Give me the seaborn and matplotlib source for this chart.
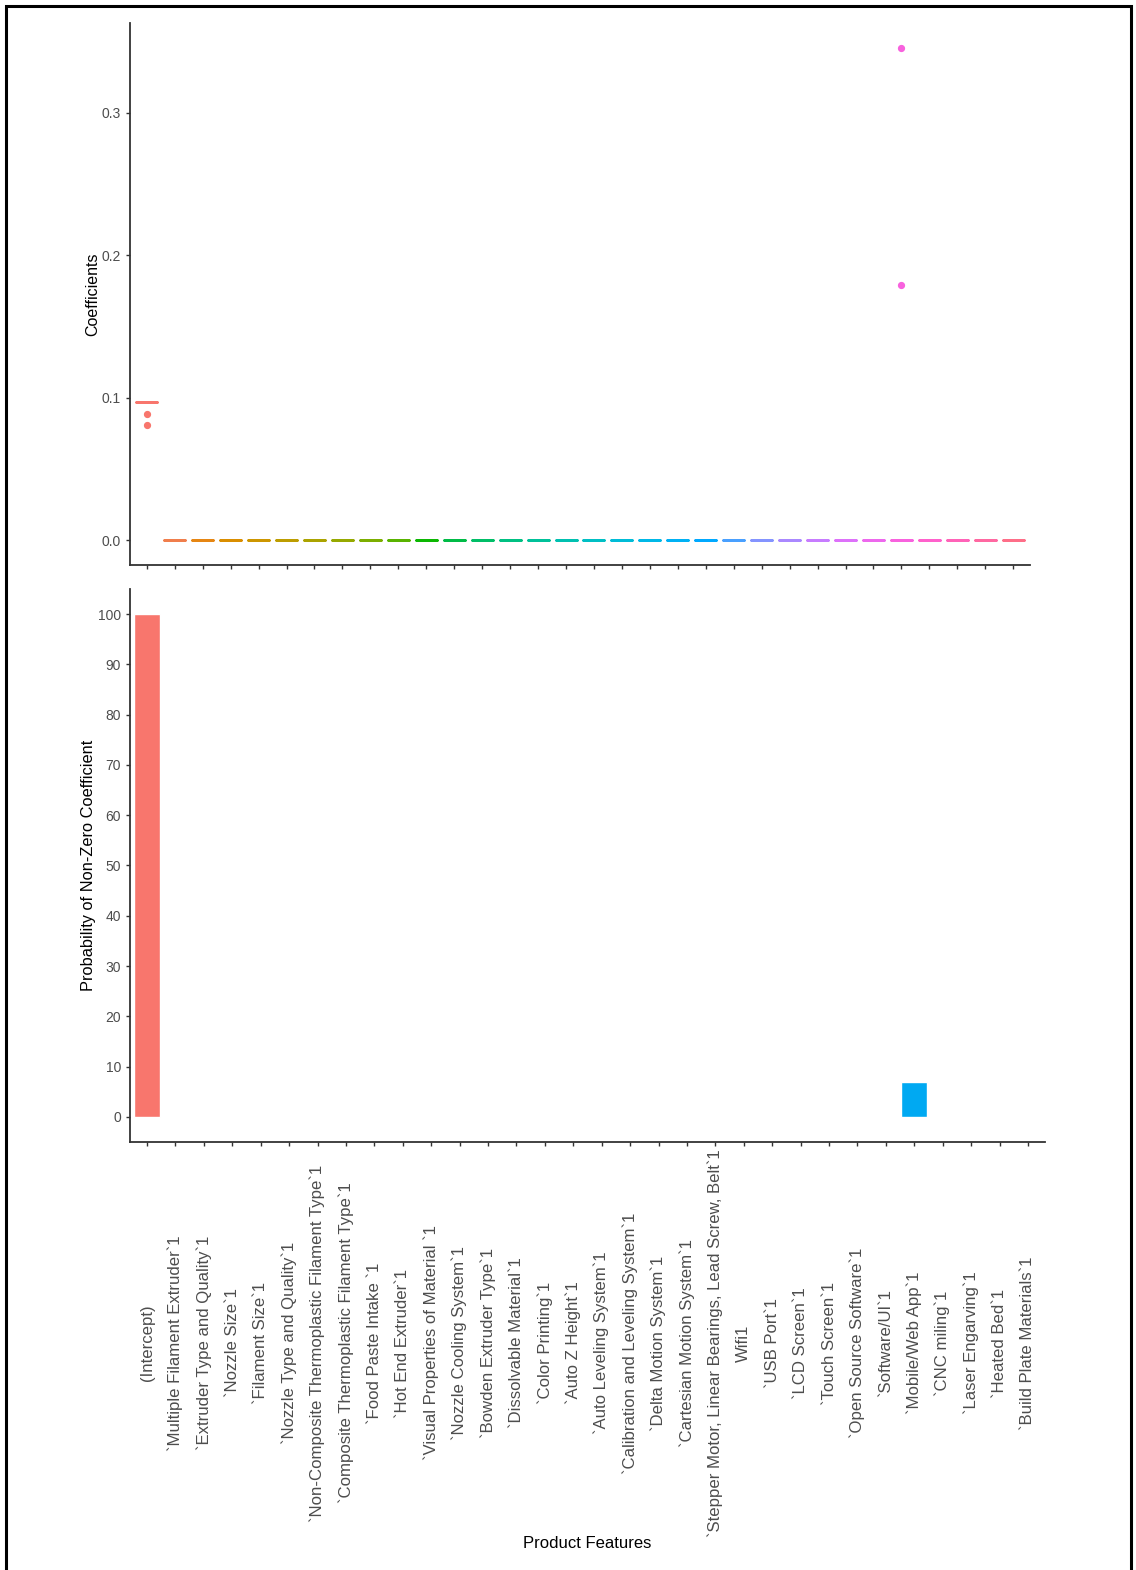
import numpy as np
import pandas as pd
import matplotlib
matplotlib.use("Agg")
import matplotlib.pyplot as plt
import seaborn as sns
from matplotlib.patches import Rectangle
from matplotlib.ticker import FormatStrFormatter

# ---------------- data ----------------
features = [
    "(Intercept)",
    "`Multiple Filament Extruder`1",
    "`Extruder Type and Quality`1",
    "`Nozzle Size`1",
    "`Filament Size`1",
    "`Nozzle Type and Quality`1",
    "`Non-Composite Thermoplastic Filament Type`1",
    "`Composite Thermoplastic Filament Type`1",
    "`Food Paste Intake `1",
    "`Hot End Extruder`1",
    "`Visual Properties of Material `1",
    "`Nozzle Cooling System`1",
    "`Bowden Extruder Type`1",
    "`Dissolvable Material`1",
    "`Color Printing`1",
    "`Auto Z Height`1",
    "`Auto Leveling System`1",
    "`Calibration and Leveling System`1",
    "`Delta Motion System`1",
    "`Cartesian Motion System`1",
    "`Stepper Motor, Linear Bearings, Lead Screw, Belt`1",
    "Wifi1",
    "`USB Port`1",
    "`LCD Screen`1",
    "`Touch Screen`1",
    "`Open Source Software`1",
    "`Software/UI`1",
    "`Mobile/Web App`1",
    "`CNC miling`1",
    "`Laser Engarving`1",
    "`Heated Bed`1",
    "`Build Plate Materials`1",
]

# typical (box) coefficient value per feature
coef_typical = [0.0972, 0, 0, 0, 0, 0, 0, 0, 0, 0, 0, 0, 0, 0, 0, 0,
                0, 0, 0, 0, 0, 0, 0, 0, 0, 0, 0, 0, 0, 0, 0, 0]
# outlying coefficient draws
coef_outliers = {
    "(Intercept)": [0.0885, 0.0806],
    "`Mobile/Web App`1": [0.1793, 0.3456],
}
n_draws = 100

# probability (%) of non-zero coefficient
prob_nonzero = [100, 0, 0, 0, 0, 0, 0, 0, 0, 0, 0, 0, 0, 0, 0, 0,
                0, 0, 0, 0, 0, 0, 0, 0, 0, 0, 0, 7, 0, 0, 0, 0]

# ---------------- tables ----------------
rows = []
for f, t in zip(features, coef_typical):
    outs = coef_outliers.get(f, [])
    vals = [t] * (n_draws - len(outs)) + list(outs)
    rows += [(f, v) for v in vals]
coef_df = pd.DataFrame(rows, columns=["feature", "coef"])
prob_df = pd.DataFrame({"feature": features, "prob": prob_nonzero})

# ---------------- colours (ggplot2 hue palette) ----------------
def hcl_hex(h, c=100.0, l=65.0):
    hr = np.deg2rad(h)
    U, V = c * np.cos(hr), c * np.sin(hr)
    Xn, Yn, Zn = 95.047, 100.0, 108.883
    un = 4 * Xn / (Xn + 15 * Yn + 3 * Zn)
    vn = 9 * Yn / (Xn + 15 * Yn + 3 * Zn)
    Y = Yn * ((l + 16) / 116) ** 3 if l > 8 else Yn * l / 903.3
    u = U / (13 * l) + un
    v = V / (13 * l) + vn
    X = 9.0 * Y * u / (4 * v)
    Z = -X / 3 - 5 * Y + 3 * Y / v
    X, Y, Z = X / 100, Y / 100, Z / 100
    rgb = [3.240479 * X - 1.537150 * Y - 0.498535 * Z,
           -0.969256 * X + 1.875992 * Y + 0.041556 * Z,
           0.055648 * X - 0.204043 * Y + 1.057311 * Z]
    out = []
    for ch in rgb:
        ch = 12.92 * ch if ch <= 0.0031308 else 1.055 * ch ** (1 / 2.4) - 0.055
        out.append(min(max(ch, 0), 1))
    return matplotlib.colors.to_hex(out)

n = len(features)
hue_cols = [hcl_hex(15 + 360 * k / n) for k in range(n)]
box_colors = dict(zip(features, hue_cols))
bar_colors = dict(zip(features, hue_cols))
bar_colors["`Mobile/Web App`1"] = "#00A9F2"

# ---------------- figure ----------------
sns.set_theme(style="ticks")
plt.rcParams["font.family"] = ["Liberation Sans", "DejaVu Sans"]

W, H = 1136, 1570
fig = plt.figure(figsize=(W / 100, H / 100), dpi=100)
fig.patch.set_facecolor("white")
ax1 = fig.add_axes([130 / W, 1 - 565 / H, 900 / W, 542 / H])
ax2 = fig.add_axes([130 / W, 1 - 1142 / H, 915 / W, 553 / H])

sns.boxplot(data=coef_df, x="feature", y="coef", hue="feature",
            order=features, hue_order=features, palette=box_colors,
            fill=False, width=0.75, linewidth=1.8, showcaps=False,
            saturation=1, legend=False,
            flierprops=dict(marker="o", markersize=4.2), ax=ax1)
for ln in ax1.lines:
    xd = np.asarray(ln.get_xdata(), dtype=float)
    if ln.get_marker() == "o" and len(xd) > 0:
        col = hue_cols[int(round(xd.mean()))]
        ln.set_markerfacecolor(col)
        ln.set_markeredgecolor(col)

sns.barplot(data=prob_df, x="feature", y="prob", hue="feature",
            order=features, hue_order=features, palette=bar_colors,
            width=0.9, saturation=1, legend=False, errorbar=None, ax=ax2)

# axis ranges (ggplot-like expansion)
lo, hi = coef_df["coef"].min(), coef_df["coef"].max()
rng = hi - lo
ax1.set_ylim(lo - 0.05 * rng, hi + 0.05 * rng)
ax2.set_ylim(-5, 105)
for ax in (ax1, ax2):
    ax.set_xlim(-0.6, n - 0.4)
    ax.set_xticks(range(n))
    sns.despine(ax=ax)
    for s in ("left", "bottom"):
        ax.spines[s].set_color("#333333")
        ax.spines[s].set_linewidth(1.3)
    ax.tick_params(axis="both", direction="out", length=3, width=1,
                   color="#333333", labelcolor="#4D4D4D", labelsize=10)
    ax.grid(False)
    ax.set_facecolor("white")

ax1.set_yticks([0.0, 0.1, 0.2, 0.3])
ax1.yaxis.set_major_formatter(FormatStrFormatter("%.1f"))
ax1.set_xticklabels([])
ax1.set_xlabel("")
ax1.set_ylabel("Coefficients", fontsize=11.5, color="black")
ax1.yaxis.set_label_coords(-0.033, 0.5)

ax2.set_yticks(range(0, 101, 10))
ax2.set_xticklabels(features, rotation=90, ha="center", va="center",
                    fontsize=12.1, color="#4D4D4D")
ax2.tick_params(axis="x", pad=141.7)
ax2.set_ylabel("Probability of Non-Zero Coefficient", fontsize=11.8, color="black")
ax2.yaxis.set_label_coords(-0.037, 0.5)
ax2.set_xlabel("Product Features", fontsize=12, color="black")
ax2.xaxis.set_label_coords(0.5, -0.7125)

# outer frame of the picture
fig.add_artist(Rectangle((6 / W, -0.02), (1131 - 6) / W, 1 - 6 / H + 0.02,
                         transform=fig.transFigure, fill=False,
                         edgecolor="black", linewidth=2.2))

fig.savefig("out.png", dpi=100, facecolor="white")
